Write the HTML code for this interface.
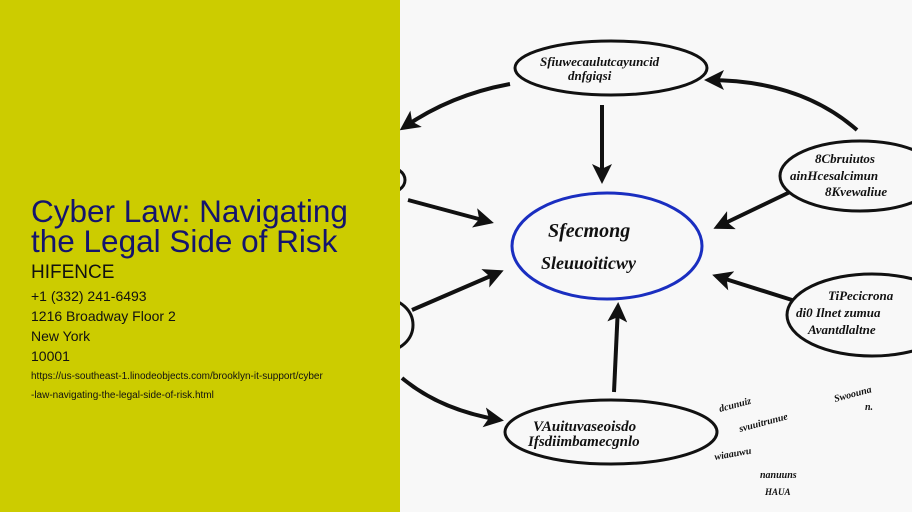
<!DOCTYPE html>
<html><head><meta charset="utf-8"><style>
html,body{margin:0;padding:0}
body{width:912px;height:512px;overflow:hidden;position:relative;background:#f8f8f8;font-family:"Liberation Sans",sans-serif}
#left{position:absolute;left:0;top:0;width:400px;height:512px;background:#cccc00}
.t{position:absolute;left:31px;color:#14146e;font-size:31.5px;line-height:30px;top:196px}
.c{position:absolute;left:31px;color:#111;font-size:14px}
</style></head><body>
<div id="left">
<div class="t">Cyber Law: Navigating<br>the Legal Side of Risk</div>
<div class="c" style="top:262px;font-size:19px">HIFENCE</div>
<div class="c" style="top:288px">+1 (332) 241-6493</div>
<div class="c" style="top:308px">1216 Broadway Floor 2</div>
<div class="c" style="top:328px">New York</div>
<div class="c" style="top:348px">10001</div>
<div class="c" style="top:371px;font-size:10px">https://us-southeast-1.linodeobjects.com/brooklyn-it-support/cyber</div>
<div class="c" style="top:390px;font-size:10px">-law-navigating-the-legal-side-of-risk.html</div>
</div>
<svg style="position:absolute;left:400px;top:0" width="512" height="512" viewBox="400 0 512 512">
<defs><marker id="a" markerWidth="5" markerHeight="5" refX="4" refY="2.5" orient="auto" markerUnits="strokeWidth"><path d="M0,0 L5,2.5 L0,5 L1.2,2.5 Z" fill="#111"/></marker></defs>
<g fill="none" stroke="#111" stroke-width="3">
<ellipse cx="611" cy="68" rx="96" ry="27"/>
<ellipse cx="860" cy="176" rx="80" ry="35"/>
<ellipse cx="872" cy="315" rx="85" ry="41"/>
<ellipse cx="611" cy="432" rx="106" ry="32"/>
<ellipse cx="385" cy="180" rx="20" ry="14"/>
<ellipse cx="385" cy="325" rx="28" ry="26"/>
<ellipse cx="607" cy="246" rx="95" ry="53" stroke="#1a2ec0"/>
<g stroke-width="4" marker-end="url(#a)">
<path d="M602,105 L602,180"/>
<path d="M510,84 Q450,95 403,128"/>
<path d="M857,130 Q800,80 708,80"/>
<path d="M790,192 L717,227"/>
<path d="M792,300 L716,276"/>
<path d="M408,200 L490,222"/>
<path d="M412,310 L500,272"/>
<path d="M614,392 L618,306"/>
<path d="M402,378 Q440,410 500,420"/>
</g></g>
<g font-family="Liberation Serif,serif" fill="#111" font-style="italic" font-weight="bold">
<text x="540" y="66" font-size="13">Sfiuwecaulutcayuncid</text>
<text x="568" y="80" font-size="13">dnfgiqsi</text>
<text x="548" y="237" font-size="20">Sfecmong</text>
<text x="541" y="269" font-size="18">Sleuuoiticwy</text>
<text x="815" y="163" font-size="13">8Cbruiutos</text>
<text x="790" y="180" font-size="13">ainHcesalcimun</text>
<text x="825" y="196" font-size="13">8Kvewaliue</text>
<text x="828" y="300" font-size="13">TiPecicrona</text>
<text x="796" y="317" font-size="13">di0 Ilnet zumua</text>
<text x="808" y="334" font-size="13">Avantdlaltne</text>
<text x="533" y="431" font-size="15">VAuituvaseoisdo</text>
<text x="528" y="446" font-size="15">Ifsdiimbamecgnlo</text>
<text x="720" y="412" font-size="10" transform="rotate(-15 720 412)">dcunuiz</text>
<text x="740" y="432" font-size="10" transform="rotate(-15 740 432)">svuuitrunue</text>
<text x="715" y="460" font-size="10" transform="rotate(-10 715 460)">wiaauwu</text>
<text x="760" y="478" font-size="10">nanuuns</text>
<text x="765" y="495" font-size="9">HAUA</text>
<text x="835" y="402" font-size="10" transform="rotate(-15 835 402)">Swoouna</text>
<text x="865" y="410" font-size="10">n.</text>
</g>
</svg>
</body></html>
